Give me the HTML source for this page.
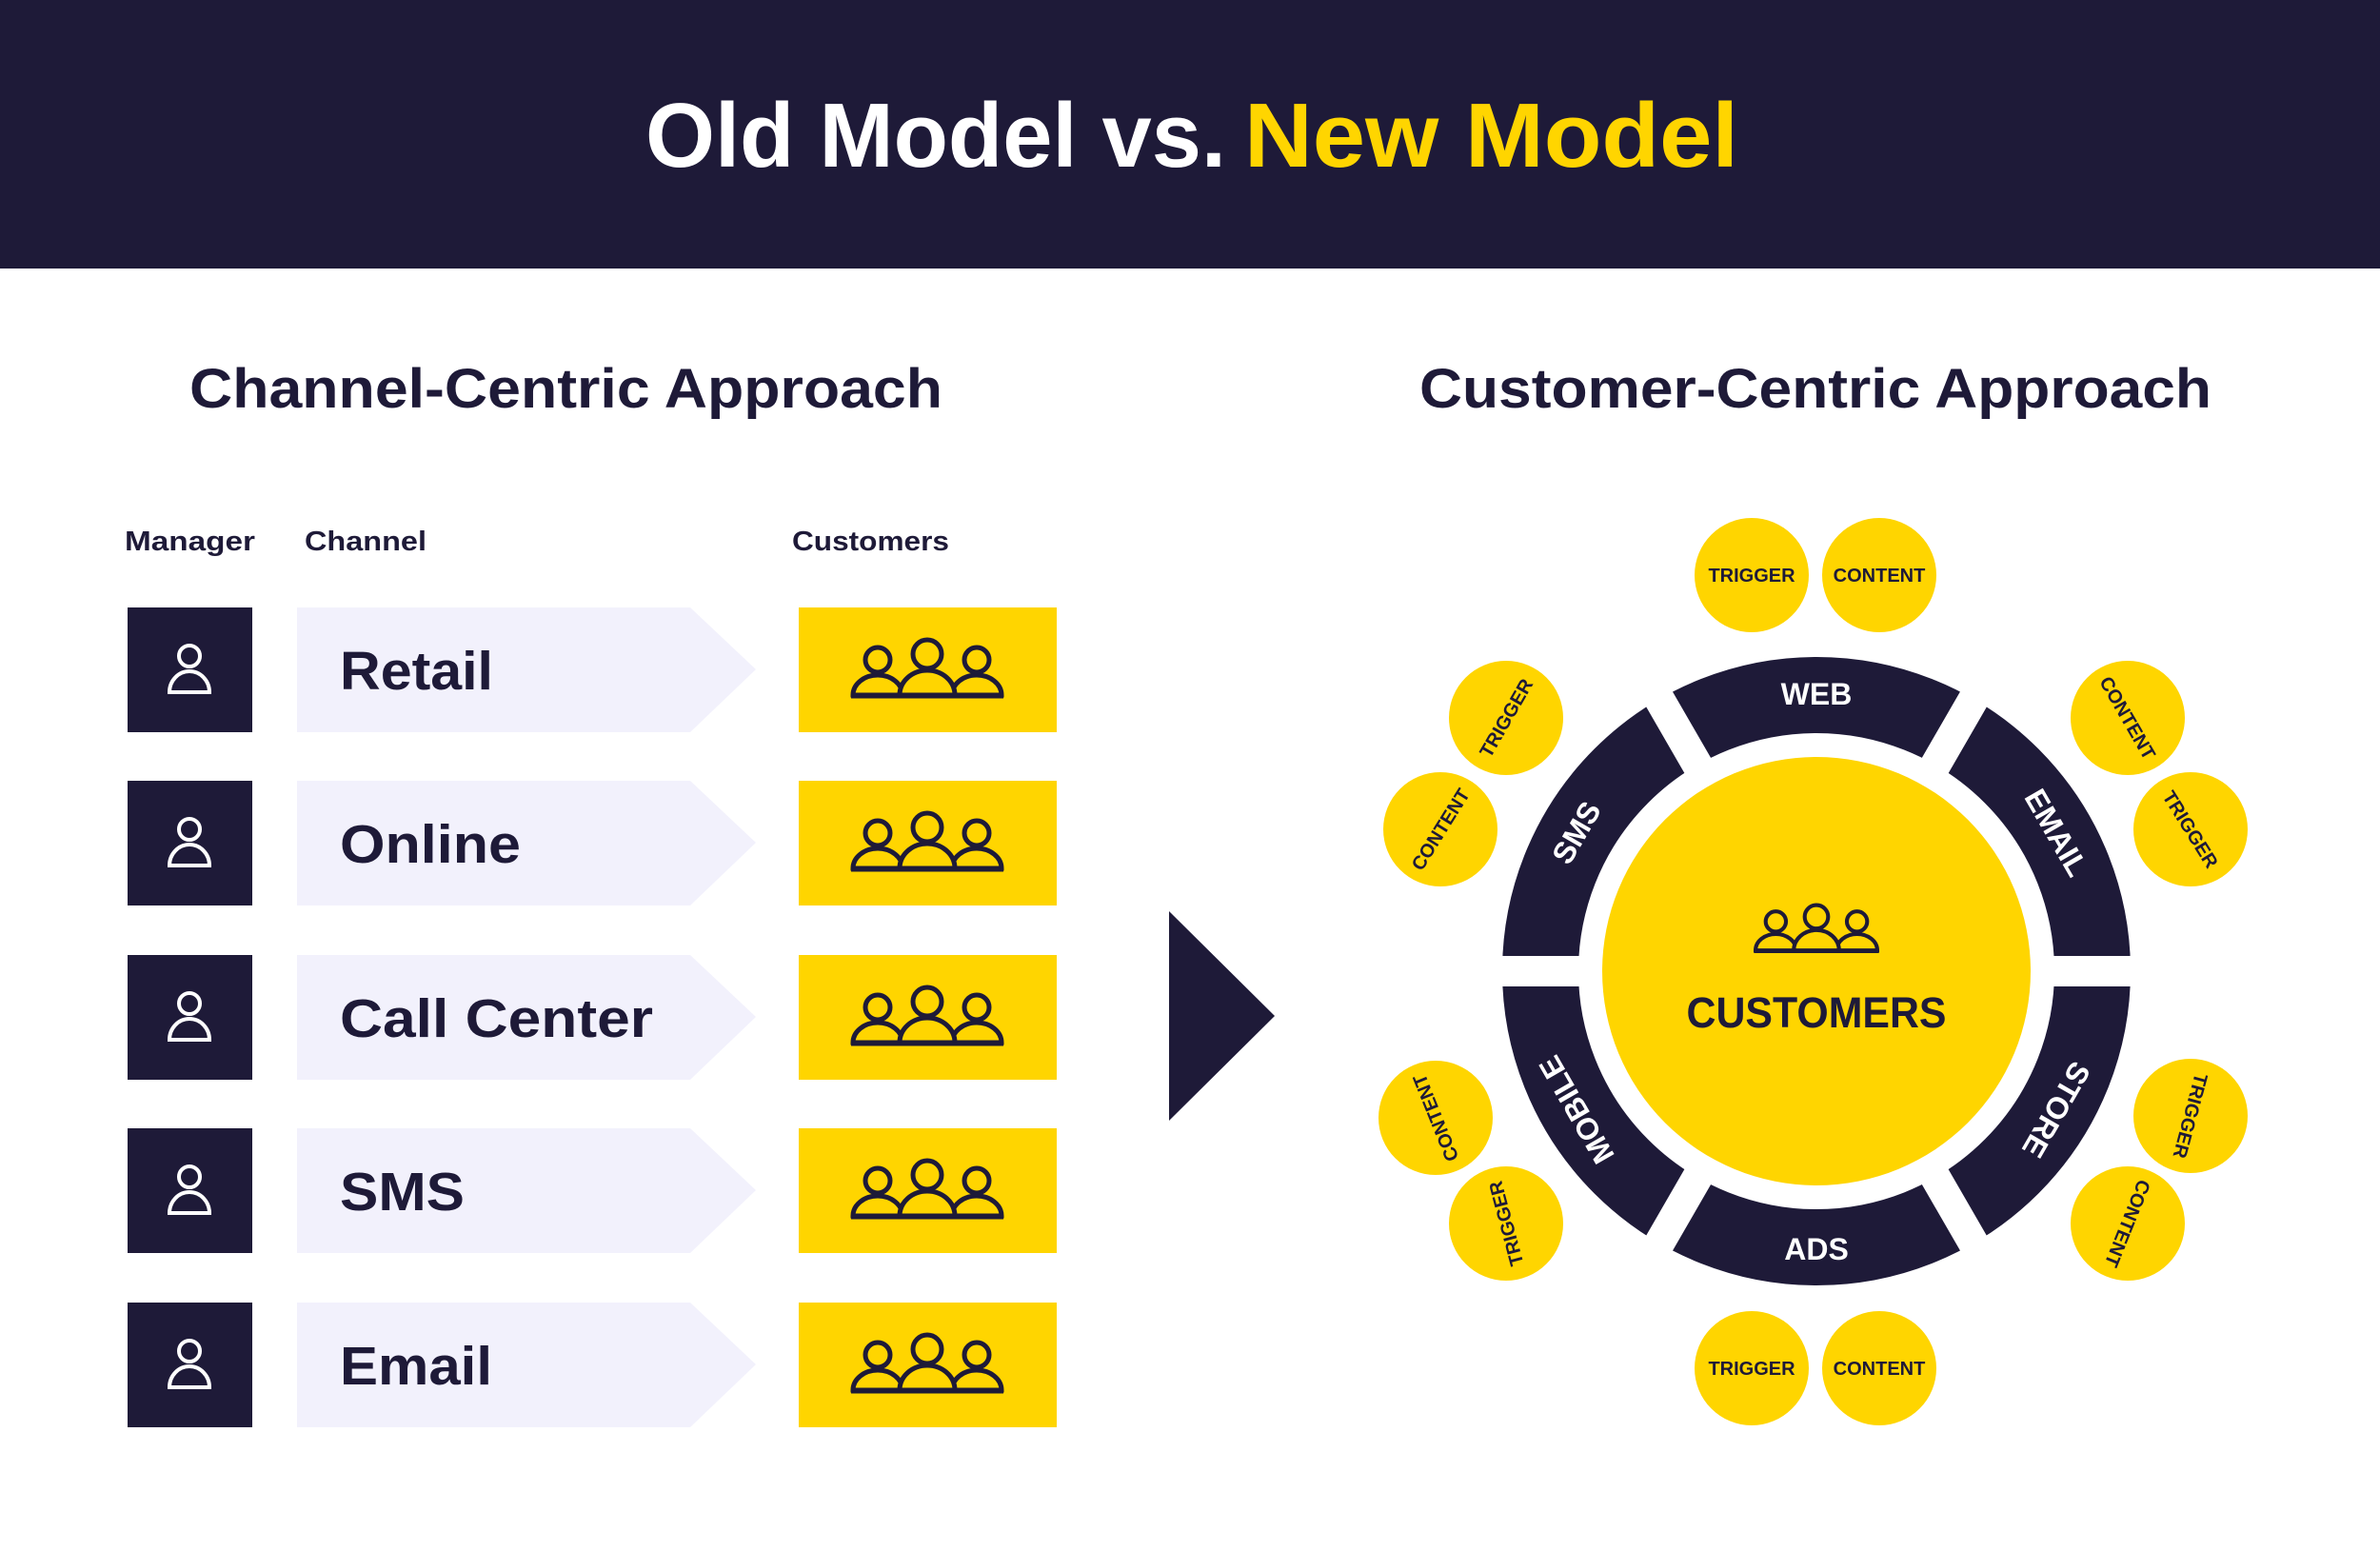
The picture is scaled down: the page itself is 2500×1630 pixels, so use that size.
<!DOCTYPE html>
<html><head><meta charset="utf-8"><style>html,body{margin:0;padding:0;background:#fff}svg{display:block}</style></head>
<body>
<svg width="2500" height="1630" viewBox="0 0 2500 1630" xmlns="http://www.w3.org/2000/svg" font-family="'Liberation Sans', sans-serif" font-weight="bold">
<defs>
<g id="ppl" fill="#FFD500" stroke="#1e1a38" stroke-width="5">
<path d="M -78 27 A 26 21 0 0 1 -26 27 Z"/>
<path d="M 26 27 A 26 21 0 0 1 78 27 Z"/>
<path d="M -29 27 A 29 26 0 0 1 29 27 Z"/>
<circle cx="-52" cy="-10" r="13"/>
<circle cx="52" cy="-10" r="13"/>
<circle cx="0" cy="-16" r="15"/>
<line x1="-80" y1="28" x2="80" y2="28"/>
</g>
<g id="mgr" fill="none" stroke="#fff" stroke-width="4">
<circle cx="0" cy="-14" r="11"/>
<path d="M -21 24 A 21 22 0 0 1 21 24 Z"/>
</g>
</defs>
<rect x="0" y="0" width="2500" height="282" fill="#1e1a38"/>
<text x="678" y="175" font-size="96" fill="#fff" textLength="610" lengthAdjust="spacingAndGlyphs">Old Model vs.</text>
<text x="1307" y="175" font-size="96" fill="#FFD500" textLength="519" lengthAdjust="spacingAndGlyphs">New Model</text>
<text x="199" y="428" font-size="58" fill="#1e1a38" textLength="791" lengthAdjust="spacingAndGlyphs">Channel-Centric Approach</text>
<text x="1491" y="428" font-size="58" fill="#1e1a38" textLength="832" lengthAdjust="spacingAndGlyphs">Customer-Centric Approach</text>
<text x="131" y="578" font-size="29" fill="#1e1a38" textLength="137" lengthAdjust="spacingAndGlyphs">Manager</text>
<text x="320" y="578" font-size="29" fill="#1e1a38" textLength="128" lengthAdjust="spacingAndGlyphs">Channel</text>
<text x="832" y="578" font-size="29" fill="#1e1a38" textLength="165" lengthAdjust="spacingAndGlyphs">Customers</text>
<g>
<rect x="134" y="638" width="131" height="131" fill="#1e1a38"/><use href="#mgr" x="199" y="703"/>
<polygon points="312,638 725,638 794,703 725,769 312,769" fill="#f2f1fc"/>
<text x="357" y="724" font-size="57" fill="#1e1a38" textLength="161" lengthAdjust="spacingAndGlyphs">Retail</text>
<rect x="839" y="638" width="271" height="131" fill="#FFD500"/><use href="#ppl" x="974" y="703"/>
</g>
<g>
<rect x="134" y="820" width="131" height="131" fill="#1e1a38"/><use href="#mgr" x="199" y="885"/>
<polygon points="312,820 725,820 794,885 725,951 312,951" fill="#f2f1fc"/>
<text x="357" y="906" font-size="57" fill="#1e1a38" textLength="190" lengthAdjust="spacingAndGlyphs">Online</text>
<rect x="839" y="820" width="271" height="131" fill="#FFD500"/><use href="#ppl" x="974" y="885"/>
</g>
<g>
<rect x="134" y="1003" width="131" height="131" fill="#1e1a38"/><use href="#mgr" x="199" y="1068"/>
<polygon points="312,1003 725,1003 794,1068 725,1134 312,1134" fill="#f2f1fc"/>
<text x="357" y="1089" font-size="57" fill="#1e1a38" textLength="329" lengthAdjust="spacingAndGlyphs">Call Center</text>
<rect x="839" y="1003" width="271" height="131" fill="#FFD500"/><use href="#ppl" x="974" y="1068"/>
</g>
<g>
<rect x="134" y="1185" width="131" height="131" fill="#1e1a38"/><use href="#mgr" x="199" y="1250"/>
<polygon points="312,1185 725,1185 794,1250 725,1316 312,1316" fill="#f2f1fc"/>
<text x="357" y="1271" font-size="57" fill="#1e1a38" textLength="131" lengthAdjust="spacingAndGlyphs">SMS</text>
<rect x="839" y="1185" width="271" height="131" fill="#FFD500"/><use href="#ppl" x="974" y="1250"/>
</g>
<g>
<rect x="134" y="1368" width="131" height="131" fill="#1e1a38"/><use href="#mgr" x="199" y="1433"/>
<polygon points="312,1368 725,1368 794,1433 725,1499 312,1499" fill="#f2f1fc"/>
<text x="357" y="1454" font-size="57" fill="#1e1a38" textLength="160" lengthAdjust="spacingAndGlyphs">Email</text>
<rect x="839" y="1368" width="271" height="131" fill="#FFD500"/><use href="#ppl" x="974" y="1433"/>
</g>
<polygon points="1228,957 1339,1067 1228,1177" fill="#1e1a38"/>
<!-- ring -->
<circle cx="1908" cy="1020" r="290" fill="none" stroke="#1e1a38" stroke-width="80"/>
<g stroke="#fff" stroke-width="32">
<line x1="1528" y1="1020" x2="2288" y2="1020"/>
<line x1="1908" y1="1020" x2="2098" y2="691" transform="rotate(0)"/>
<line x1="1718" y1="1349" x2="2098" y2="691"/>
<line x1="1718" y1="691" x2="2098" y2="1349"/>
</g>
<circle cx="1908" cy="1020" r="225" fill="#FFD500"/>
<use href="#ppl" transform="translate(1908,976) scale(0.82)"/>
<text x="1908" y="1079" font-size="45" fill="#1e1a38" text-anchor="middle" textLength="273" lengthAdjust="spacingAndGlyphs">CUSTOMERS</text>
<g font-size="32" fill="#fff" text-anchor="middle">
<text x="1908" y="740">WEB</text>
<text x="1908" y="740" transform="rotate(60 1908 1020)">EMAIL</text>
<text x="1908" y="740" transform="rotate(120 1908 1020)">STORE</text>
<text x="1908" y="1323">ADS</text>
<text x="1908" y="740" transform="rotate(-120 1908 1020)">MOBILE</text>
<text x="1908" y="740" transform="rotate(-60 1908 1020)">SMS</text>
</g>
<g fill="#FFD500">
<circle cx="1840" cy="604" r="60"/><circle cx="1974" cy="604" r="60"/>
<circle cx="1840" cy="1437" r="60"/><circle cx="1974" cy="1437" r="60"/>
<circle cx="1582" cy="754" r="60"/><circle cx="1513" cy="871" r="60"/>
<circle cx="2235" cy="754" r="60"/><circle cx="2301" cy="871" r="60"/>
<circle cx="1508" cy="1174" r="60"/><circle cx="1582" cy="1285" r="60"/>
<circle cx="2301" cy="1172" r="60"/><circle cx="2235" cy="1285" r="60"/>
</g>
<g font-size="20" fill="#1e1a38" text-anchor="middle">
<text x="1840" y="611">TRIGGER</text><text x="1974" y="611">CONTENT</text>
<text x="1840" y="1444">TRIGGER</text><text x="1974" y="1444">CONTENT</text>
<text x="1582" y="761" transform="rotate(-60 1582 754)">TRIGGER</text>
<text x="1513" y="878" transform="rotate(-58 1513 871)">CONTENT</text>
<text x="2235" y="761" transform="rotate(60 2235 754)">CONTENT</text>
<text x="2301" y="878" transform="rotate(58 2301 871)">TRIGGER</text>
<text x="1508" y="1181" transform="rotate(-112 1508 1174)">CONTENT</text>
<text x="1582" y="1292" transform="rotate(-105 1582 1285)">TRIGGER</text>
<text x="2301" y="1179" transform="rotate(105 2301 1172)">TRIGGER</text>
<text x="2235" y="1292" transform="rotate(112 2235 1285)">CONTENT</text>
</g>
</svg>
</body></html>
